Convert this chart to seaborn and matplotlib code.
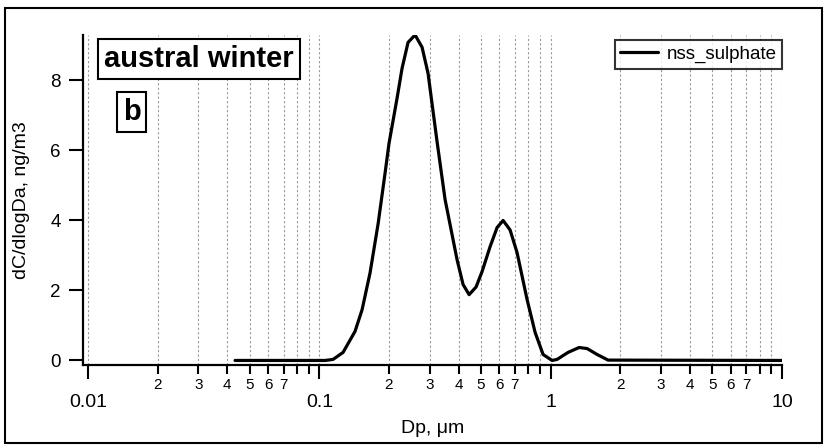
import matplotlib
matplotlib.use("Agg")
import matplotlib.pyplot as plt
import matplotlib.ticker as mticker
from matplotlib.patches import Rectangle
import numpy as np
import pandas as pd
import seaborn as sns

# Size distribution of non-sea-salt sulphate (austral winter)
dp_um = [0.0432, 0.106, 0.1146, 0.1266, 0.1426, 0.153, 0.1656, 0.1794, 0.1923,
         0.200, 0.2168, 0.2278, 0.2418, 0.2593, 0.278, 0.2951, 0.322, 0.3495,
         0.3938, 0.4181, 0.4440, 0.4759, 0.5051, 0.547, 0.5867, 0.6229, 0.6675,
         0.7157, 0.7907, 0.8565, 0.9274, 1.014, 1.066, 1.189, 1.327, 1.437,
         1.588, 1.771, 10.0]
nss_sulphate = [0.0, 0.0, 0.03, 0.23, 0.83, 1.45, 2.5, 3.9, 5.35,
                6.2, 7.5, 8.35, 9.09, 9.3, 8.95, 8.2, 6.3, 4.6,
                2.88, 2.17, 1.88, 2.1, 2.54, 3.25, 3.8, 4.0, 3.73,
                3.08, 1.74, 0.8, 0.17, 0.0, 0.03, 0.23, 0.37, 0.34,
                0.17, 0.01, 0.0]

series_name = "nss_sulphate"
major_ticks = [0.01, 0.1, 1, 10]
major_labels = ["0.01", "0.1", "1", "10"]
minor_labelled = [2, 3, 4, 5, 6, 7]
y_ticks = [0, 2, 4, 6, 8]

df = pd.DataFrame({"Dp": dp_um, "conc": nss_sulphate, "species": series_name})

sns.set_style("ticks")
plt.rcParams["font.family"] = ["Liberation Sans", "DejaVu Sans"]
plt.rcParams.update({"text.color": "black", "axes.labelcolor": "black",
                     "xtick.color": "black", "ytick.color": "black"})

fig = plt.figure(figsize=(8.25, 4.45), dpi=100)
ax = fig.add_axes([83 / 825, 1 - 365 / 445, (782 - 83) / 825, (365 - 35) / 445])

sns.lineplot(data=df, x="Dp", y="conc", hue="species", palette=["black"],
             estimator=None, sort=True, linewidth=2.3, ax=ax)

ax.set_xscale("log")
ax.set_xlim(0.00951, 10)
ax.set_ylim(-0.13, 9.3)

# x axis: decades plus intermediate marks, numbered 2-7
ax.xaxis.set_major_locator(mticker.FixedLocator(major_ticks))
ax.xaxis.set_major_formatter(mticker.FixedFormatter(major_labels))
ax.xaxis.set_minor_locator(mticker.LogLocator(base=10, subs=np.arange(2, 10), numticks=20))


def minor_fmt(val, pos):
    lead = int(round(val / 10 ** np.floor(np.log10(val) + 1e-9)))
    return str(lead) if lead in minor_labelled else ""


ax.xaxis.set_minor_formatter(mticker.FuncFormatter(minor_fmt))
ax.set_yticks(y_ticks)

ax.tick_params(axis="x", which="major", direction="out", length=10, width=1.5,
               pad=11, labelsize=14)
ax.tick_params(axis="x", which="minor", direction="out", length=6.5, width=1.5,
               pad=3, labelsize=11)
ax.tick_params(axis="y", which="major", direction="out", length=10, width=1.5,
               pad=6, labelsize=13.5)

for side in ("top", "right"):
    ax.spines[side].set_visible(False)
for side in ("left", "bottom"):
    ax.spines[side].set_linewidth(1.6)
    ax.spines[side].set_color("black")

ax.grid(True, which="both", axis="x", color="#9a9a9a", linestyle=(0, (2, 2)),
        linewidth=0.8)
ax.grid(False, axis="y")
ax.set_axisbelow(True)

ax.set_xlabel("Dp, \u03bcm", fontsize=14)
ax.set_ylabel("dC/dlogDa, ng/m3", fontsize=14)
ax.xaxis.set_label_coords(0.5, -(420 - 365) / 330)
ax.yaxis.set_label_coords(-(83 - 30) / 699, 0.5)

leg = ax.legend(loc="upper right", bbox_to_anchor=(1.0, 1 - 5 / 330),
                borderaxespad=0, fontsize=13.5, frameon=True, fancybox=False,
                handlelength=2.0, handletextpad=0.45, borderpad=0.3)
leg.get_frame().set_edgecolor("black")
leg.get_frame().set_linewidth(1.5)
for h in leg.get_lines():
    h.set_linewidth(2.3)

box_style = dict(boxstyle="square,pad=0.2", facecolor="white", edgecolor="black",
                 linewidth=1.5)
fig.text(199 / 825, 1 - 59 / 445, "austral winter", fontsize=21, fontweight="bold",
         ha="center", va="center", bbox=box_style)
fig.text(131.5 / 825, 1 - 112 / 445, "b", fontsize=21, fontweight="bold",
         ha="center", va="center", bbox=box_style)

# border around the whole graph window
fig.patches.append(Rectangle((5 / 825, 2 / 445), 817 / 825, 435 / 445,
                             transform=fig.transFigure, fill=False,
                             edgecolor="black", linewidth=1.5))

fig.savefig("out.png", dpi=100)
